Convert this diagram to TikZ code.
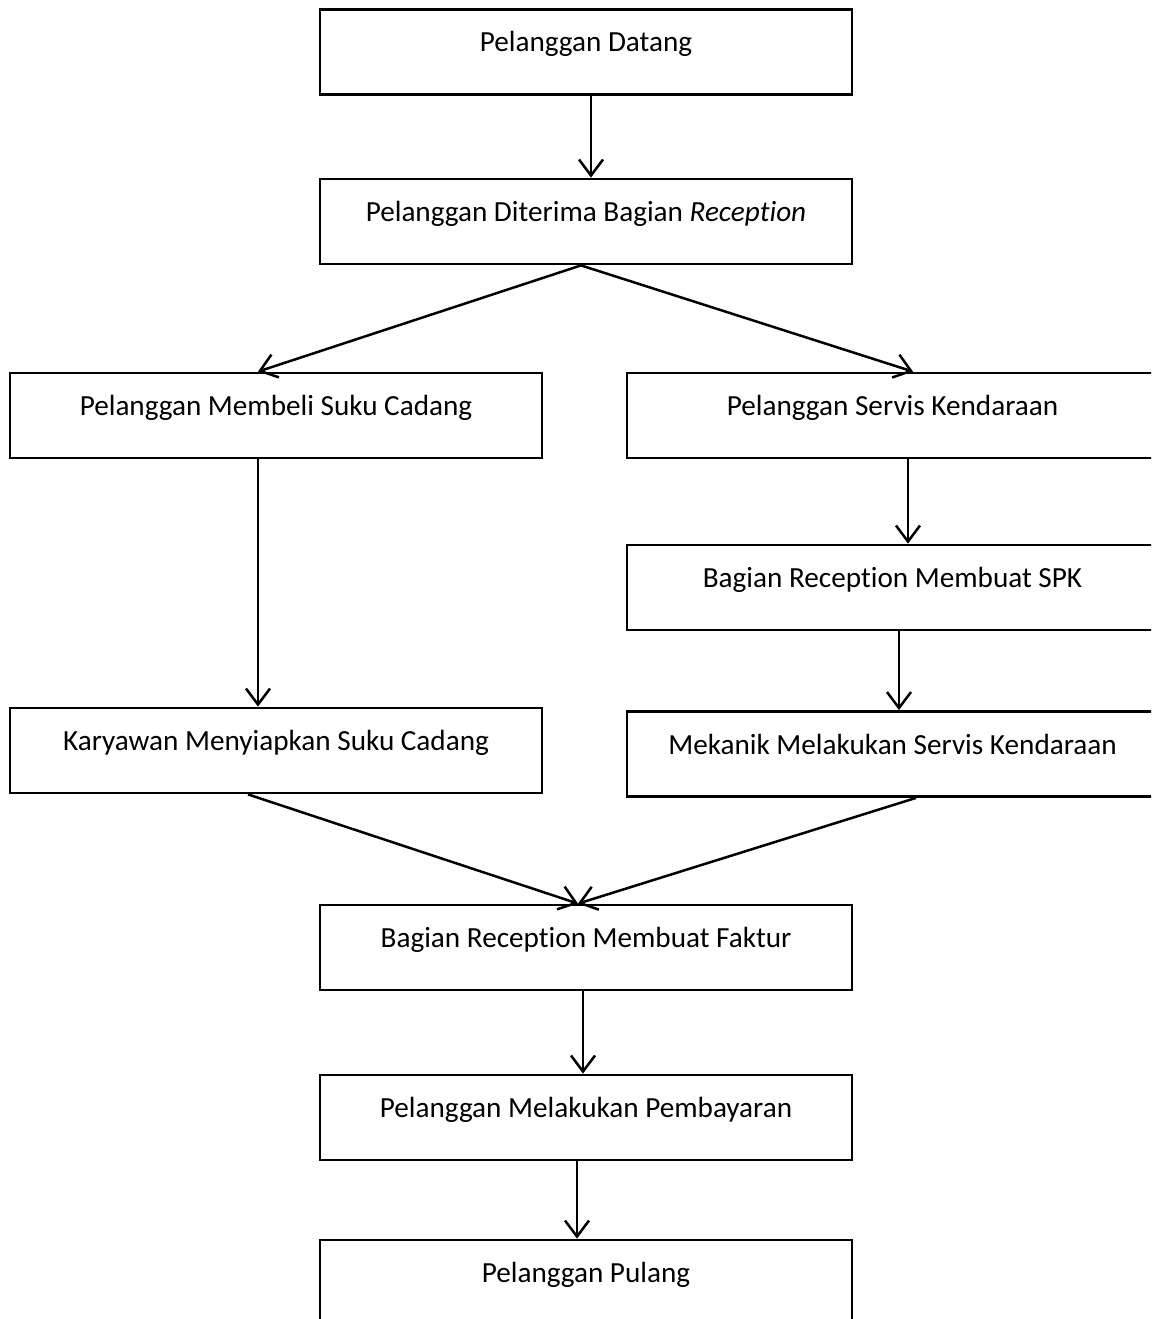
\documentclass[tikz,border=0pt]{standalone}
\usepackage{fontspec}
\setmainfont{Carlito}[RawFeature={-liga;-clig;-dlig;-calt}]
\usetikzlibrary{arrows.meta,calc}
\tikzset{
  box/.style={draw=black, line width=2.8pt, rectangle, minimum width=532pt, minimum height=85pt,
    inner sep=0pt, text height=20pt, text depth=20pt, font=\fontsize{29.2}{34}\selectfont},
  boxr/.style={box, minimum width=531pt},
  arr/.style={draw=black, line width=2.5pt, -{Straight Barb[length=16pt,width=24pt,line width=2.5pt]}}
}
\begin{document}
\begin{tikzpicture}[x=1pt,y=-1pt]
\path[use as bounding box, clip] (0,0) rectangle (1151,1319);
\fill[white] (0,0) rectangle (1151,1319);
\node[box] (n1) at (586,52) {Pelanggan Datang};
\node[box] (n2) at (586,221.5) {Pelanggan Diterima Bagian \textit{Reception}};
\node[box] (n3) at (276,415.5) {Pelanggan Membeli Suku Cadang};
\node[boxr] (n4) at (892.5,415.5) {Pelanggan Servis Kendaraan};
\node[boxr] (n5) at (892.5,587.5) {Bagian Reception Membuat SPK};
\node[box] (n6) at (276,750.5) {Karyawan Menyiapkan Suku Cadang};
\node[boxr] (n7) at (892.5,754) {Mekanik Melakukan Servis Kendaraan};
\node[box] (n8) at (586,947.5) {Bagian Reception Membuat Faktur};
\node[box] (n9) at (586,1117.5) {Pelanggan Melakukan Pembayaran};
\node[box] (n10) at (586,1282.5) {Pelanggan Pulang};
\draw[arr] ($(n1.south)+(5,0)$) -- ($(n2.north)+(5,0)$);
\draw[arr] ($(n2.south)+(-5,0)$) -- ($(n3.north)+(-18,0)$);
\draw[arr] ($(n2.south)+(-5,0)$) -- ($(n4.north)+(20.5,0)$);
\draw[arr] ($(n3.south)+(-18,0)$) -- ($(n6.north)+(-18,0)$);
\draw[arr] ($(n4.south)+(15.5,0)$) -- ($(n5.north)+(15.5,0)$);
\draw[arr] ($(n5.south)+(6.5,0)$) -- ($(n7.north)+(6.5,0)$);
\draw[arr] ($(n6.south)+(-28,0)$) -- ($(n8.north)+(-8,0)$);
\draw[arr] ($(n7.south)+(23.5,0)$) -- ($(n8.north)+(-8,0)$);
\draw[arr] ($(n8.south)+(-3,0)$) -- ($(n9.north)+(-3,0)$);
\draw[arr] ($(n9.south)+(-9,0)$) -- ($(n10.north)+(-9,0)$);
\end{tikzpicture}
\end{document}
